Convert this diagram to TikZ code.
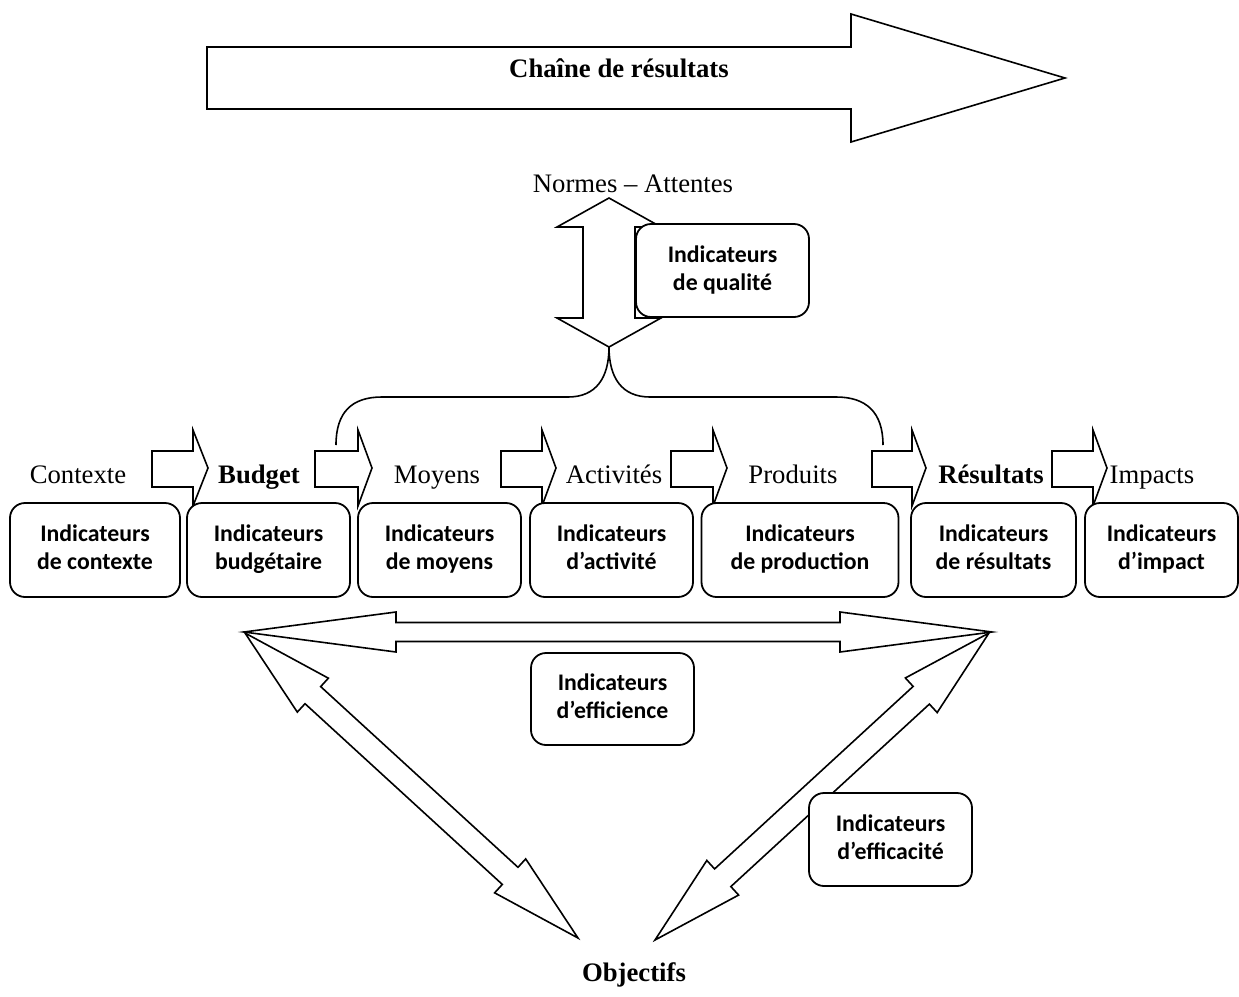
\documentclass[tikz,border=0pt]{standalone}
\usepackage{fontspec}
\setmainfont{Liberation Serif}
\newfontfamily\boxfont{Carlito}
\usetikzlibrary{calc}
\tikzset{
  blk/.style={draw=black, line width=0.8pt, fill=white, line join=miter},
  brace/.style={draw=black, line width=0.8pt},
  ibox/.style={draw=black, line width=0.9pt, fill=white, rounded corners=7.5pt,
    minimum height=47pt, inner sep=0pt, align=center,
    font=\boxfont\fontsize{11.9}{14}\selectfont\bfseries},
  lbl/.style={anchor=base, inner sep=0pt, font=\fontsize{13.35}{16}\selectfont},
  blbl/.style={anchor=base, inner sep=0pt, font=\fontsize{13.35}{16}\selectfont\bfseries},
}
% double block arrow: #1 tip A, #2 tip B, #3 head length, #4 head half width, #5 shaft half width
\newcommand\dblblock[5]{%
  \path ($(#1)!#3!(#2)$) coordinate (pa) ($(#2)!#3!(#1)$) coordinate (pb);
  \draw[blk] (#1) -- ($(pa)!#4!90:(#2)$) -- ($(pa)!#5!90:(#2)$)
    -- ($(pb)!#5!-90:(#1)$) -- ($(pb)!#4!-90:(#1)$) -- (#2)
    -- ($(pb)!#4!90:(#1)$) -- ($(pb)!#5!90:(#1)$)
    -- ($(pa)!#5!-90:(#2)$) -- ($(pa)!#4!-90:(#2)$) -- cycle;}
% small chain arrow: #1 shaft left, #2 head base, #3 tip
\newcommand\chainarrow[3]{%
  \draw[blk] (#1,451) -- (#2,451) -- (#2,430) -- (#3,468) -- (#2,506) -- (#2,487) -- (#1,487) -- cycle;}
\begin{document}
\begin{tikzpicture}[x=0.5pt,y=-0.5pt]
\useasboundingbox (0,0) rectangle (1239,997);

% top arrow
\draw[blk] (207,47) -- (851,47) -- (851,14) -- (1065,78) -- (851,142) -- (851,109) -- (207,109) -- cycle;
\node[blbl] (chain) at (619,77) {Chaîne de résultats};

% normes
\node[lbl] (normes) at (633,192) {Normes – Attentes};

% brace
\draw[brace] (336,445) .. controls (336,412) and (352,397) .. (382,397) -- (568,397)
  .. controls (596,397) and (609,378) .. (609,347)
  .. controls (609,378) and (622,397) .. (650,397) -- (836,397)
  .. controls (866,397) and (883,412) .. (883,445);

% vertical double arrow
\coordinate (qa) at (609,198);
\coordinate (qb) at (609,347);
\dblblock{qa}{qb}{14.5pt}{26pt}{13pt}
\node[ibox, minimum width=86.5pt, minimum height=46.5pt] (qual) at (722.5,270.5) {Indicateurs\strut\\de qualité\strut};

% chain arrows
\chainarrow{152}{193}{208}
\chainarrow{315}{358}{372}
\chainarrow{501}{542}{556}
\chainarrow{671}{713}{727}
\chainarrow{872}{912}{926}
\chainarrow{1052}{1093}{1107}

% labels
\node[lbl]  (contexte) at (78,483)  {Contexte};
\node[blbl] (budget)   at (259,483) {Budget};
\node[lbl]  (moyens)   at (437,483) {Moyens};
\node[lbl]  (activ)    at (614,483) {Activités};
\node[lbl]  (produits) at (793,483) {Produits};
\node[blbl] (result)   at (991,483) {Résultats};
\node[lbl]  (impacts)  at (1152,483) {Impacts};

% boxes
\node[ibox, minimum width=85pt]   (b1) at (95,550)    {Indicateurs\strut\\de contexte\strut};
\node[ibox, minimum width=81.5pt] (b2) at (268.5,550) {Indicateurs\strut\\budgétaire\strut};
\node[ibox, minimum width=81.5pt] (b3) at (439.5,550) {Indicateurs\strut\\de moyens\strut};
\node[ibox, minimum width=81.5pt] (b4) at (611.5,550) {Indicateurs\strut\\d’activité\strut};
\node[ibox, minimum width=98.5pt] (b5) at (800,550)   {Indicateurs\strut\\de production\strut};
\node[ibox, minimum width=82.5pt] (b6) at (993.5,550) {Indicateurs\strut\\de résultats\strut};
\node[ibox, minimum width=76.5pt] (b7) at (1161.5,550) {Indicateurs\strut\\d’impact\strut};

% efficiency arrow
\coordinate (ea) at (244,632);
\coordinate (eb) at (992,632);
\dblblock{ea}{eb}{76pt}{10pt}{4.75pt}
\node[ibox, minimum width=81.5pt, minimum height=46pt] (effi) at (612.5,699) {Indicateurs\strut\\d’efficience\strut};

% diagonal arrows
\coordinate (la) at (245,633);
\coordinate (lb) at (578,938);
\dblblock{la}{lb}{46pt}{11.5pt}{5.8pt}
\coordinate (ra) at (989,633);
\coordinate (rb) at (655,940);
\dblblock{ra}{rb}{46pt}{11.75pt}{6pt}

\node[ibox, minimum width=81.5pt, minimum height=46.5pt] (effc) at (890.5,839.5) {Indicateurs\strut\\d’efficacité\strut};

\node[blbl] (obj) at (634,981) {Objectifs};
\end{tikzpicture}
\end{document}
